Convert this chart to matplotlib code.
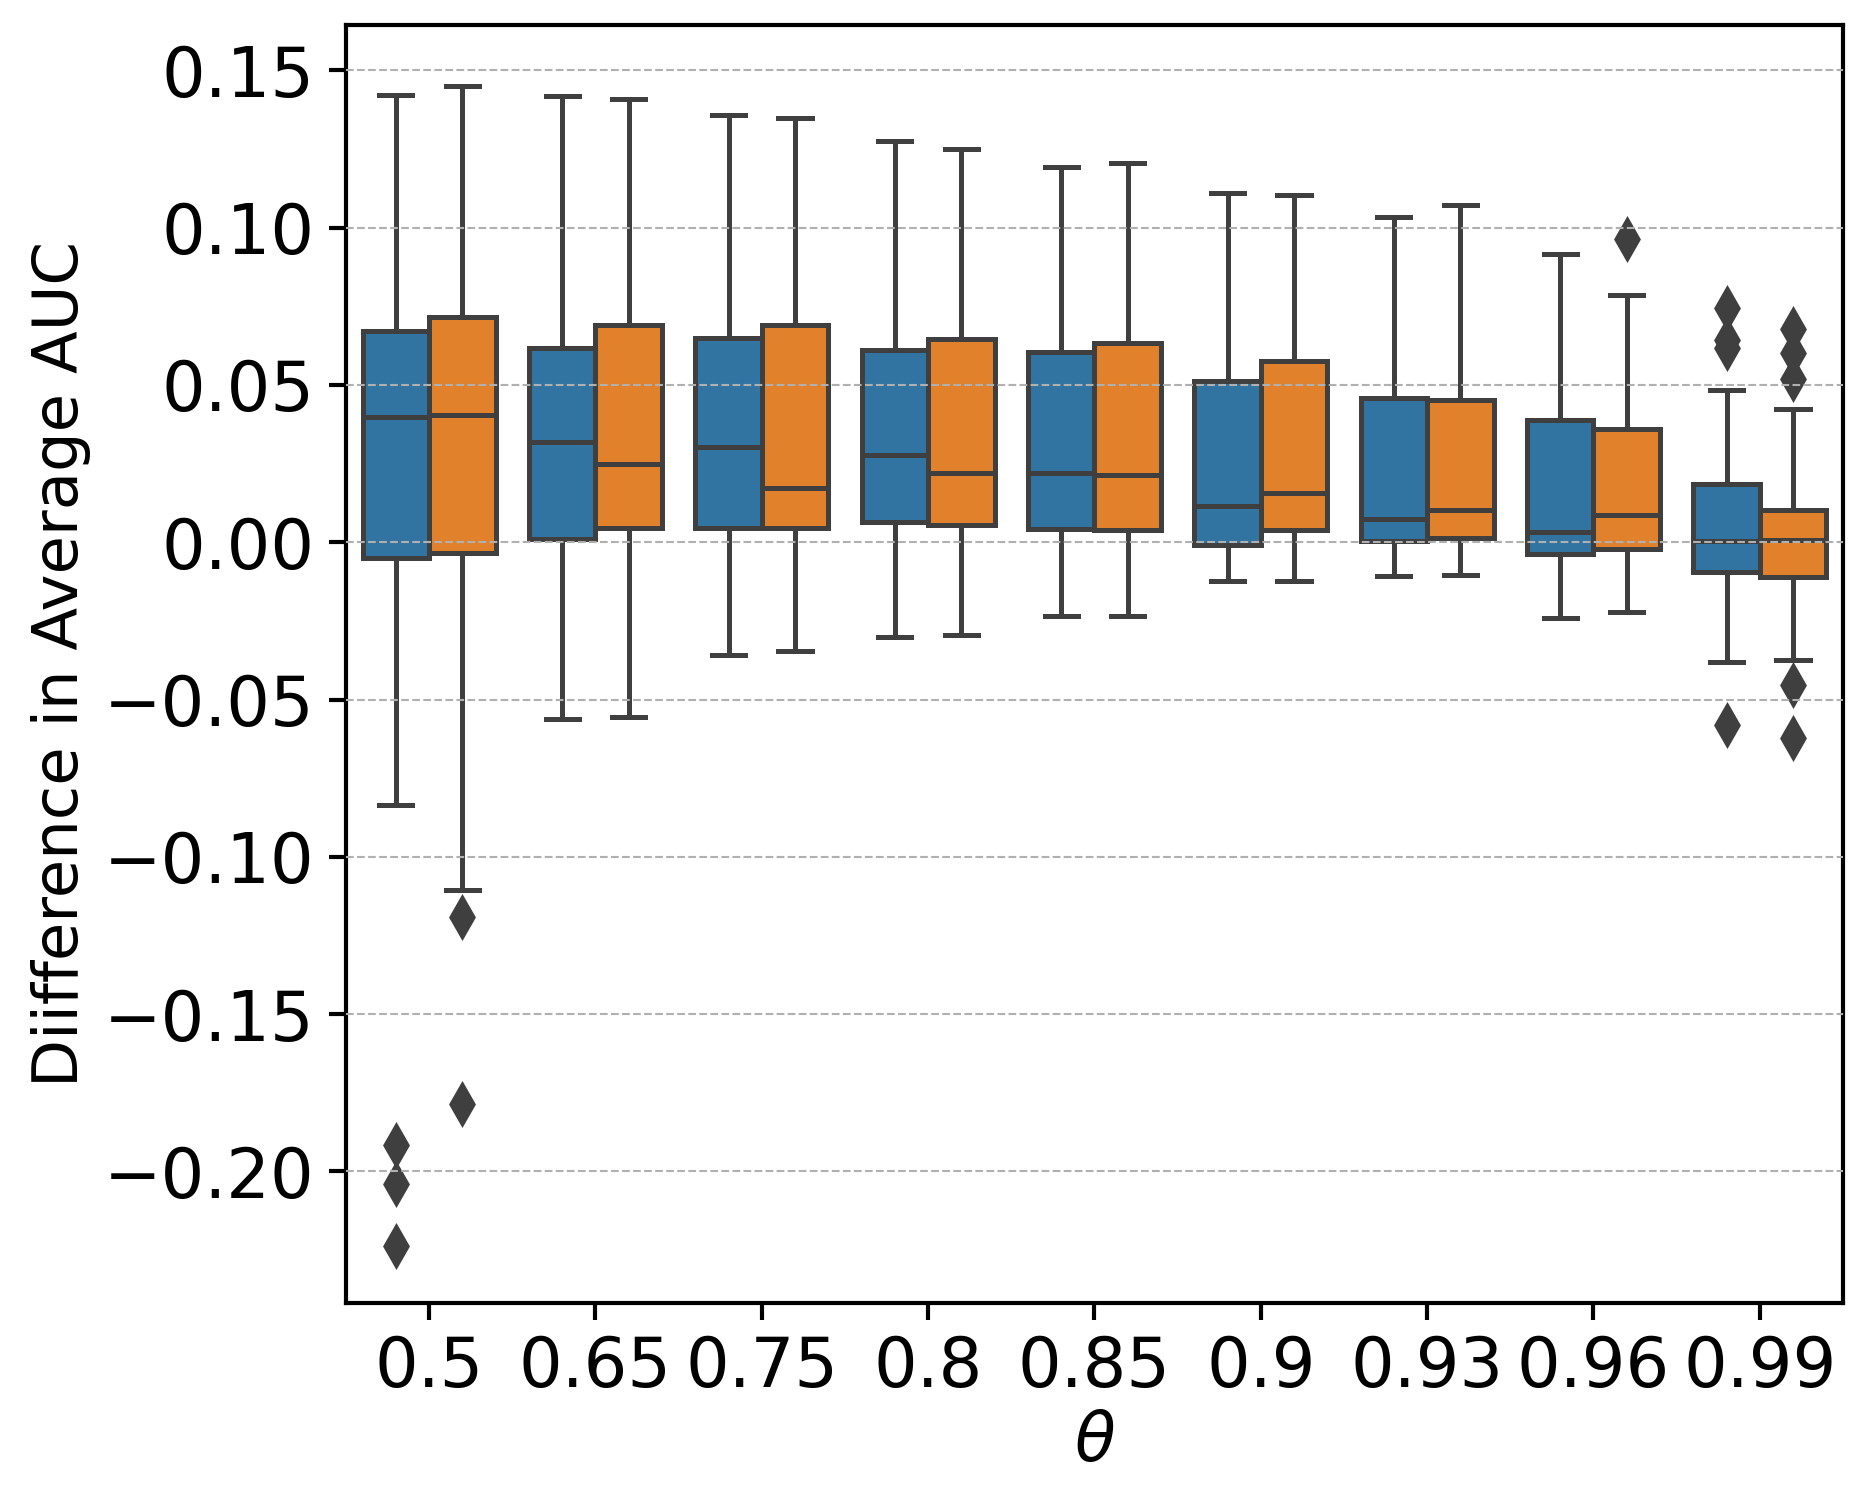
import matplotlib
matplotlib.use("Agg")
import matplotlib.pyplot as plt
import numpy as np

categories = ["0.5", "0.65", "0.75", "0.8", "0.85", "0.9", "0.93", "0.96", "0.99"]

# series 1 (blue): whisker_low, q1, median, q3, whisker_high
blue_wlo = [-0.0835, -0.0562, -0.0357, -0.0300, -0.0236, -0.0124, -0.0106, -0.0240, -0.0382]
blue_q1  = [-0.0051,  0.0009,  0.0045,  0.0063,  0.0043, -0.0009,  0.0005, -0.0036, -0.0094]
blue_med = [ 0.0398,  0.0320,  0.0303,  0.0278,  0.0219,  0.0116,  0.0075,  0.0033,  0.0003]
blue_q3  = [ 0.0673,  0.0616,  0.0649,  0.0612,  0.0605,  0.0514,  0.0460,  0.0390,  0.0184]
blue_whi = [ 0.1422,  0.1418,  0.1357,  0.1274,  0.1193,  0.1110,  0.1035,  0.0917,  0.0484]
blue_fliers = [[-0.1916, -0.2041, -0.2236], [], [], [], [], [], [], [],
               [0.0744, 0.0642, 0.0617, -0.0582]]

# series 2 (orange)
orange_wlo = [-0.1105, -0.0557, -0.0347, -0.0295, -0.0236, -0.0124, -0.0104, -0.0223, -0.0374]
orange_q1  = [-0.0034,  0.0045,  0.0045,  0.0054,  0.0040,  0.0040,  0.0013, -0.0020, -0.0109]
orange_med = [ 0.0403,  0.0249,  0.0172,  0.0219,  0.0214,  0.0155,  0.0102,  0.0086,  0.0006]
orange_q3  = [ 0.0716,  0.0690,  0.0690,  0.0646,  0.0634,  0.0575,  0.0452,  0.0361,  0.0102]
orange_whi = [ 0.1449,  0.1409,  0.1350,  0.1251,  0.1205,  0.1105,  0.1071,  0.0785,  0.0422]
orange_fliers = [[-0.1190, -0.1786], [], [], [], [], [], [], [0.0964],
                 [0.0678, 0.0600, 0.0520, -0.0455, -0.0621]]

yticks = [-0.20, -0.15, -0.10, -0.05, 0.00, 0.05, 0.10, 0.15]

plt.rcParams['font.family'] = ['DejaVu Sans']

fig = plt.figure(figsize=(1868 / 300, 1509 / 300), dpi=300)
ax = fig.add_axes([0.1852, 0.1368, 0.8014, 0.8466])

line_c = "#3f3f3f"
lw = 1.2
colors = ["#3274a1", "#e1812c"]


def make_stats(wlo, q1, med, q3, whi, fl):
    out = []
    for i in range(len(med)):
        out.append(dict(whislo=wlo[i], q1=q1[i], med=med[i], q3=q3[i],
                        whishi=whi[i], fliers=fl[i]))
    return out


series = [
    make_stats(blue_wlo, blue_q1, blue_med, blue_q3, blue_whi, blue_fliers),
    make_stats(orange_wlo, orange_q1, orange_med, orange_q3, orange_whi, orange_fliers),
]
offsets = [-0.2, 0.2]
base = np.arange(len(categories))
for s, stats in enumerate(series):
    ax.bxp(stats, positions=base + offsets[s], widths=0.4, patch_artist=True,
           boxprops=dict(facecolor=colors[s], edgecolor=line_c, linewidth=lw),
           whiskerprops=dict(color=line_c, linewidth=lw),
           capprops=dict(color=line_c, linewidth=lw),
           medianprops=dict(color=line_c, linewidth=lw),
           flierprops=dict(marker='d', markerfacecolor=line_c, markeredgecolor=line_c,
                           markersize=7.0, markeredgewidth=0.6, linestyle='none'),
           manage_ticks=False)

ax.set_xlim(-0.5, len(categories) - 0.5)
ax.set_ylim(-0.2417, 0.1644)
ax.set_xticks(base)
ax.set_xticklabels(categories)
ax.set_yticks(yticks)
ax.set_yticklabels([f"{v:.2f}".replace("-", "\u2212") for v in yticks])
ax.set_axisbelow(False)
ax.yaxis.grid(True, linestyle='--', color='#b0b0b0', linewidth=0.5)
ax.tick_params(axis='both', labelsize=16.5, width=1.0, length=4, color='black')
for sp in ax.spines.values():
    sp.set_linewidth(1.0)
    sp.set_color('black')

ax.set_xlabel(r"$\theta$", fontsize=16, labelpad=2)
ax.set_ylabel("Diifference in Average AUC", fontsize=15, labelpad=3)

fig.savefig("out.png", dpi=300)
